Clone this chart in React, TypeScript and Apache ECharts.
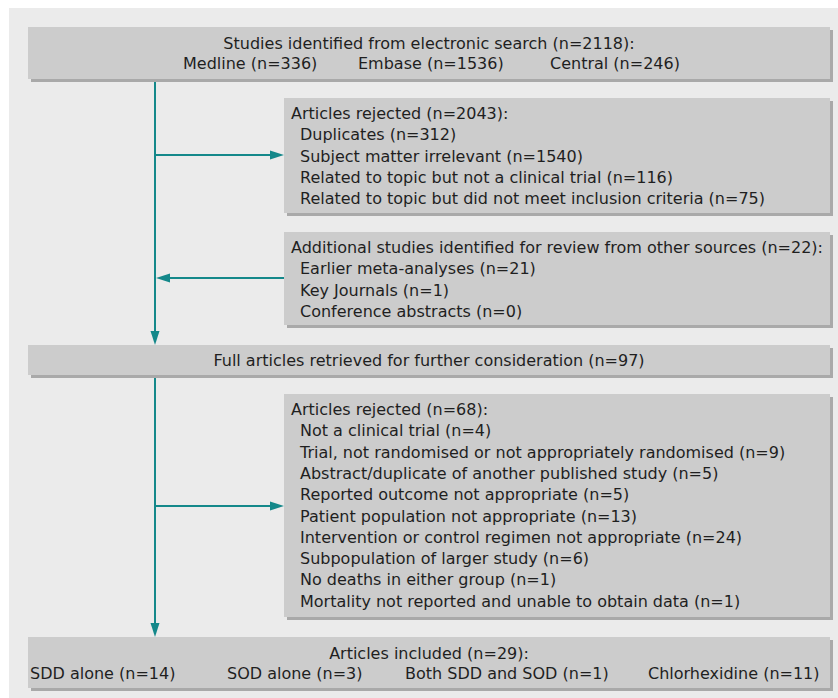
import React, { useEffect, useRef } from "react";
import * as echarts from "echarts";

// ---- Data ----
const searchTotal = 2118;
const sourceNames = ["Medline", "Embase", "Central"];
const sourceCounts = [336, 1536, 246];

const rejected1Total = 2043;
const rejected1Labels = [
  "Duplicates",
  "Subject matter irrelevant",
  "Related to topic but not a clinical trial",
  "Related to topic but did not meet inclusion criteria",
];
const rejected1Counts = [312, 1540, 116, 75];

const additionalTotal = 22;
const additionalLabels = ["Earlier meta-analyses", "Key Journals", "Conference abstracts"];
const additionalCounts = [21, 1, 0];

const retrievedTotal = 97;

const rejected2Total = 68;
const rejected2Labels = [
  "Not a clinical trial",
  "Trial, not randomised or not appropriately randomised",
  "Abstract/duplicate of another published study",
  "Reported outcome not appropriate",
  "Patient population not appropriate",
  "Intervention or control regimen not appropriate",
  "Subpopulation of larger study",
  "No deaths in either group",
  "Mortality not reported and unable to obtain data",
];
const rejected2Counts = [4, 9, 5, 5, 13, 24, 6, 1, 1];

const includedTotal = 29;
const includedNames = ["SDD alone", "SOD alone", "Both SDD and SOD", "Chlorhexidine"];
const includedCounts = [14, 3, 1, 11];

// ---- Layout / style ----
const W = 838;
const H = 698;
const BG = "#ebebeb";
const BOX = "#cccccc";
const SHADOW = "#a9a9a9";
const TEAL = "#14888a";
const TXT = "#1f1f1f";
const FONT = "DejaVu Sans";
const FS = 16;
const LH = 21.3;

const n = (c: number) => `(n=${c})`;

function box(x1: number, y1: number, x2: number, y2: number) {
  return [
    { type: "rect", shape: { x: x1 + 3, y: y1 + 3, width: x2 - x1, height: y2 - y1 }, style: { fill: SHADOW } },
    { type: "rect", shape: { x: x1, y: y1, width: x2 - x1, height: y2 - y1 }, style: { fill: BOX } },
  ];
}

function txt(s: string, x: number, y: number, align: string = "left") {
  return {
    type: "text",
    x,
    y,
    style: {
      text: s,
      fill: TXT,
      font: `${FS}px "${FONT}", sans-serif`,
      textAlign: align,
      textVerticalAlign: "middle",
    },
  };
}

function hLine(x1: number, x2: number, y: number) {
  return { type: "line", shape: { x1, y1: y, x2, y2: y }, style: { stroke: TEAL, lineWidth: 2 } };
}
function vLine(x: number, y1: number, y2: number) {
  return { type: "line", shape: { x1: x, y1, x2: x, y2 }, style: { stroke: TEAL, lineWidth: 2 } };
}
function arrowRight(xTip: number, y: number) {
  return { type: "polygon", shape: { points: [[xTip, y], [xTip - 14, y - 4.5], [xTip - 14, y + 4.5]] }, style: { fill: TEAL } };
}
function arrowLeft(xTip: number, y: number) {
  return { type: "polygon", shape: { points: [[xTip, y], [xTip + 14, y - 4.5], [xTip + 14, y + 4.5]] }, style: { fill: TEAL } };
}
function arrowDown(x: number, yTip: number) {
  return { type: "polygon", shape: { points: [[x, yTip], [x - 4.5, yTip - 14], [x + 4.5, yTip - 14]] }, style: { fill: TEAL } };
}

function buildGraphic() {
  const els: any[] = [];
  els.push({ type: "rect", shape: { x: 9, y: 8, width: W - 9, height: H - 8 }, style: { fill: BG } });

  const L = 28, R = 830, C = (L + R) / 2, TX = 155, SL = 284;

  // connectors
  els.push(vLine(TX, 79, 333));
  els.push(arrowDown(TX, 345));
  els.push(vLine(TX, 375, 625));
  els.push(arrowDown(TX, 637));
  els.push(hLine(TX, SL - 12, 155));
  els.push(arrowRight(SL, 155));
  els.push(hLine(TX + 12, SL, 278));
  els.push(arrowLeft(TX + 1, 278));
  els.push(hLine(TX, SL - 12, 506));
  els.push(arrowRight(SL, 506));

  // top box
  els.push(...box(L, 27, R, 79));
  els.push(txt(`Studies identified from electronic search ${n(searchTotal)}:`, C, 43, "center"));
  const srcX = [183, 358, 550];
  sourceNames.forEach((s, i) => els.push(txt(`${s} ${n(sourceCounts[i])}`, srcX[i], 63)));

  // rejected 1
  els.push(...box(SL, 98, R, 213));
  els.push(txt(`Articles rejected ${n(rejected1Total)}:`, 291, 113.5));
  rejected1Labels.forEach((s, i) => els.push(txt(`${s} ${n(rejected1Counts[i])}`, 300, 113.5 + LH * (i + 1))));

  // additional
  els.push(...box(SL, 232, R, 325));
  els.push(txt(`Additional studies identified for review from other sources ${n(additionalTotal)}:`, 291, 247.5));
  additionalLabels.forEach((s, i) => els.push(txt(`${s} ${n(additionalCounts[i])}`, 300, 247.5 + LH * (i + 1))));

  // full articles
  els.push(...box(L, 345, R, 375));
  els.push(txt(`Full articles retrieved for further consideration ${n(retrievedTotal)}`, C, 360.5, "center"));

  // rejected 2
  els.push(...box(SL, 394, R, 617));
  els.push(txt(`Articles rejected ${n(rejected2Total)}:`, 291, 409.5));
  rejected2Labels.forEach((s, i) => els.push(txt(`${s} ${n(rejected2Counts[i])}`, 300, 409.5 + LH * (i + 1))));

  // included
  els.push(...box(L, 637, R, 688));
  els.push(txt(`Articles included ${n(includedTotal)}:`, C, 653.5, "center"));
  const incX = [30, 227, 405, 648];
  includedNames.forEach((s, i) => els.push(txt(`${s} ${n(includedCounts[i])}`, incX[i], 673.5)));

  return els;
}

export default function App() {
  const ref = useRef<HTMLDivElement>(null);
  useEffect(() => {
    if (!ref.current) return;
    const chart = echarts.init(ref.current, null, { renderer: "svg" });
    chart.setOption({
      animation: false,
      backgroundColor: "#ffffff",
      graphic: { elements: buildGraphic() },
    });
    return () => chart.dispose();
  }, []);
  return <div ref={ref} style={{ position: "absolute", left: 0, top: 0, width: W, height: H }} />;
}
